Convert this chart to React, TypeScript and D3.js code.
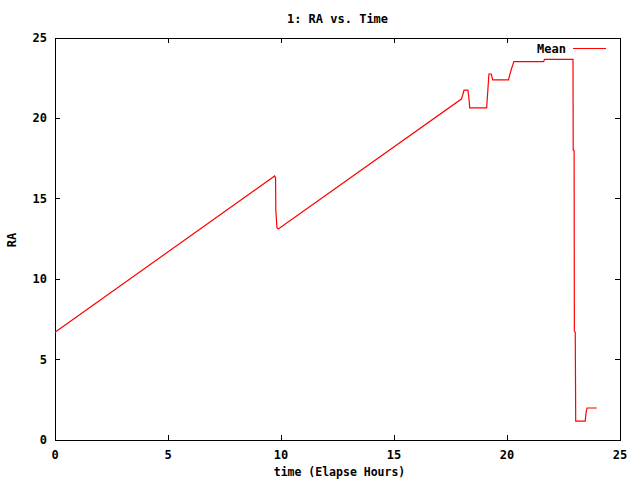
import React, { useEffect, useRef } from 'react'
import * as d3 from 'd3'

// RA (hours) against elapsed time
const hours = [
  0, 9.72, 9.76, 9.77, 9.82, 9.88, 17.98, 18.05, 18.1, 18.27, 18.32, 18.35,
  19.1, 19.15, 19.2, 19.3, 19.37, 20.07, 20.1, 20.15, 20.2, 20.25, 20.3,
  21.62, 21.66, 22.92, 22.93, 22.97, 22.98, 23.02, 23.04, 23.46, 23.5, 23.54, 23.97,
]
const raMean = [
  6.7, 16.42, 16.3, 14.3, 13.2, 13.12, 21.2, 21.5, 21.76, 21.76, 21.2, 20.65,
  20.65, 21.7, 22.76, 22.76, 22.39, 22.39, 22.6, 22.85, 23.1, 23.3, 23.53,
  23.53, 23.67, 23.67, 18.03, 18.0, 6.78, 6.7, 1.18, 1.18, 1.7, 1.99, 1.99,
]
const xTicks = [0, 5, 10, 15, 20, 25]
const yTicks = [0, 5, 10, 15, 20, 25]

export default function App() {
  const ref = useRef<SVGSVGElement>(null)

  useEffect(() => {
    const width = 640, height = 480
    const margin = { top: 38, right: 20, bottom: 40, left: 55 }
    const font = '"DejaVu Sans Mono", monospace'

    const svg = d3.select(ref.current)
    svg.selectAll('*').remove()

    const x = d3.scaleLinear().domain([0, 25]).range([margin.left, width - margin.right])
    const y = d3.scaleLinear().domain([0, 25]).range([height - margin.bottom, margin.top])

    svg.append('rect').attr('width', width).attr('height', height).attr('fill', '#fff')

    const g = svg.append('g').attr('shape-rendering', 'crispEdges')
    const tick = 5
    // ticks on all four sides, pointing inward
    xTicks.forEach(t => {
      g.append('line').attr('x1', x(t)).attr('x2', x(t)).attr('y1', y(0)).attr('y2', y(0) - tick).attr('stroke', '#000')
      g.append('line').attr('x1', x(t)).attr('x2', x(t)).attr('y1', y(25)).attr('y2', y(25) + tick).attr('stroke', '#000')
      svg.append('text').attr('x', x(t)).attr('y', y(0) + 19).attr('text-anchor', 'middle')
        .attr('font-family', font).attr('font-size', 12).attr('font-weight', 'bold').text(t)
    })
    yTicks.forEach(t => {
      g.append('line').attr('x1', x(0)).attr('x2', x(0) + tick).attr('y1', y(t)).attr('y2', y(t)).attr('stroke', '#000')
      g.append('line').attr('x1', x(25)).attr('x2', x(25) - tick).attr('y1', y(t)).attr('y2', y(t)).attr('stroke', '#000')
      svg.append('text').attr('x', x(0) - 8).attr('y', y(t) + 4).attr('text-anchor', 'end')
        .attr('font-family', font).attr('font-size', 12).attr('font-weight', 'bold').text(t)
    })
    g.append('rect')
      .attr('x', x(0)).attr('y', y(25))
      .attr('width', x(25) - x(0)).attr('height', y(0) - y(25))
      .attr('fill', 'none').attr('stroke', '#000')

    const data = hours.map((h, i) => [h, raMean[i]] as [number, number])
    const line = d3.line<[number, number]>().x(d => x(d[0])).y(d => y(d[1]))
    svg.append('path').datum(data).attr('d', line).attr('fill', 'none')
      .attr('stroke', '#ff0000').attr('stroke-width', 1.2)

    // legend
    svg.append('text').attr('x', 566).attr('y', 53).attr('text-anchor', 'end')
      .attr('font-family', font).attr('font-size', 12).attr('font-weight', 'bold').text('Mean')
    svg.append('line').attr('x1', 573).attr('x2', 606).attr('y1', 48.5).attr('y2', 48.5)
      .attr('stroke', '#ff0000').attr('stroke-width', 1.2)

    const cx = (x(0) + x(25)) / 2
    svg.append('text').attr('x', cx).attr('y', 23).attr('text-anchor', 'middle')
      .attr('font-family', font).attr('font-size', 12).attr('font-weight', 'bold').text('1: RA vs. Time')
    svg.append('text').attr('x', cx + 2).attr('y', 476).attr('text-anchor', 'middle')
      .attr('font-family', font).attr('font-size', 11.5).attr('font-weight', 'bold').text('time (Elapse Hours)')
    svg.append('text').attr('transform', 'translate(16,240) rotate(-90)').attr('text-anchor', 'middle')
      .attr('font-family', font).attr('font-size', 12).attr('font-weight', 'bold').text('RA')
  }, [])

  return (
    <svg ref={ref} width={640} height={480} style={{ position: 'absolute', left: 0, top: 0 }} />
  )
}
